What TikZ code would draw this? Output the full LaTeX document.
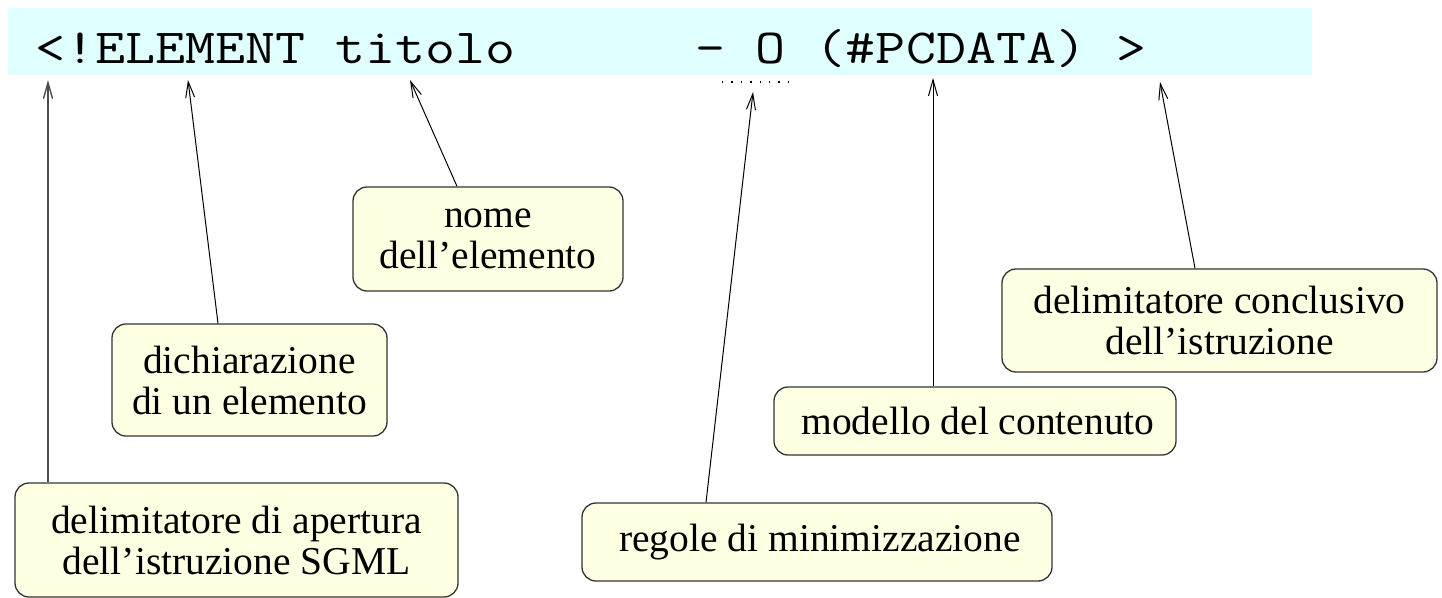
\documentclass[tikz,border=0pt]{standalone}
\usepackage{fontspec}
\setmainfont{Liberation Serif}
\usetikzlibrary{arrows.meta}
\definecolor{bandcyan}{HTML}{E0FFFF}
\definecolor{boxyellow}{HTML}{FFFFE3}
\definecolor{boxline}{HTML}{333333}
\begin{document}
\begin{tikzpicture}[x=1pt,y=-1pt,
  note/.style={draw=boxline, line width=1.3pt, fill=boxyellow, rounded corners=14pt,
    inner sep=0pt, align=center, font=\fontsize{39.5}{41}\selectfont},
  arr/.style={-{Straight Barb[length=16pt,width=9pt]}, line width=1pt, draw=black},
  dotline/.style={line width=1.4pt, dash pattern=on 1.4pt off 8pt}]
\useasboundingbox (0,0) rectangle (1442,597);
\fill[bandcyan] (8,8) rectangle (1312,75);
\node[anchor=base west, inner sep=0pt, font=\ttfamily\fontsize{49}{49}\selectfont] (code) at (35,63)
  {\scalebox{1.19}[1]{<!ELEMENT~titolo~~~~~~-~O~(\#PCDATA)~>}};
\coordinate (d1) at (722,82);
\coordinate (d2) at (792,82);
\draw[dotline] (d1) -- (d2);

\node[note, minimum width=443pt, minimum height=114pt] (open) at (236.5,540)
  {delimitatore di apertura\\dell'istruzione SGML};
\node[note, minimum width=275pt, minimum height=112pt] (decl) at (249.5,380)
  {dichiarazione\\di un elemento};
\node[note, minimum width=270pt, minimum height=104pt] (name) at (488,239)
  {nome\\dell'elemento};
\node[note, minimum width=470pt, minimum height=78pt] (minim) at (817,542)
  {\hspace*{6pt}regole di minimizzazione};
\node[note, minimum width=402pt, minimum height=68pt] (model) at (975,421)
  {\hspace*{6pt}modello del contenuto};
\node[note, minimum width=435pt, minimum height=103pt] (close) at (1219.5,320.5)
  {delimitatore conclusivo\\dell'istruzione};

\coordinate (hOpen) at (48,80);
\coordinate (hDecl) at (188,80);
\coordinate (hName) at (410,80);
\coordinate (hMinim) at (753,92);
\coordinate (hModel) at (933,78);
\coordinate (hClose) at (1160,82);

\draw[arr, draw=black!70, line width=1.4pt] ([xshift=-188.5pt]open.north) -- (hOpen);
\draw[arr] ([xshift=-31.5pt]decl.north) -- (hDecl);
\draw[arr] ([xshift=-31pt]name.north) -- (hName);
\draw[arr] ([xshift=-111pt]minim.north) -- (hMinim);
\draw[arr] ([xshift=-42pt]model.north) -- (hModel);
\draw[arr] ([xshift=-24.5pt]close.north) -- (hClose);
\end{tikzpicture}
\end{document}
